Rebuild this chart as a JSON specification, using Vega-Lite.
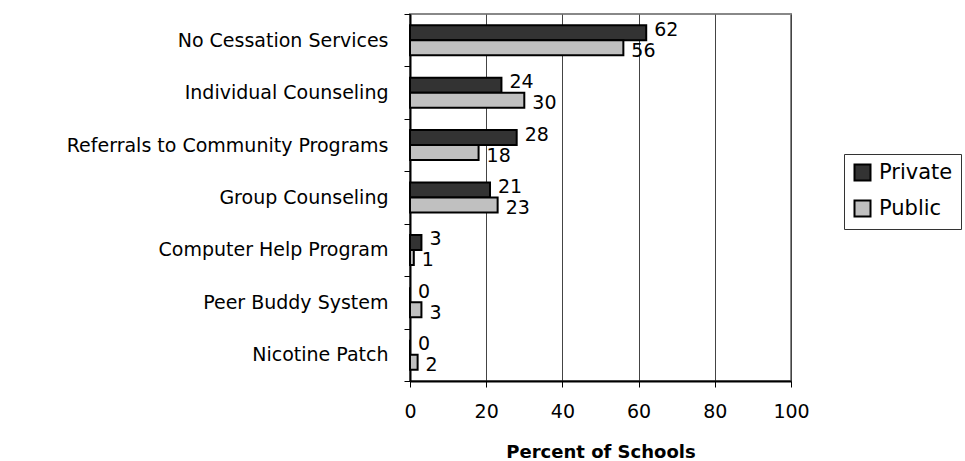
{
  "$schema": "https://vega.github.io/schema/vega-lite/v6.json",
  "autosize": {"type": "none"},
  "padding": {"left": 410, "top": 14, "right": 174, "bottom": 80},
  "width": 381,
  "height": 367,
  "background": "white",
  "config": {
    "font": "DejaVu Sans",
    "view": {"stroke": "#888888", "strokeWidth": 2},
    "axis": {"labelFont": "DejaVu Sans", "labelColor": "#000", "titleColor": "#000"}
  },
  "data": {
    "values": [
      {"service": "No Cessation Services", "type": "Private", "pct": 62},
      {"service": "No Cessation Services", "type": "Public", "pct": 56},
      {"service": "Individual Counseling", "type": "Private", "pct": 24},
      {"service": "Individual Counseling", "type": "Public", "pct": 30},
      {"service": "Referrals to Community Programs", "type": "Private", "pct": 28},
      {"service": "Referrals to Community Programs", "type": "Public", "pct": 18},
      {"service": "Group Counseling\u00a0", "type": "Private", "pct": 21},
      {"service": "Group Counseling\u00a0", "type": "Public", "pct": 23},
      {"service": "Computer Help Program", "type": "Private", "pct": 3},
      {"service": "Computer Help Program", "type": "Public", "pct": 1},
      {"service": "Peer Buddy System", "type": "Private", "pct": 0},
      {"service": "Peer Buddy System", "type": "Public", "pct": 3},
      {"service": "Nicotine Patch", "type": "Private", "pct": 0},
      {"service": "Nicotine Patch", "type": "Public", "pct": 2}
    ]
  },
  "encoding": {
    "y": {
      "field": "service",
      "type": "nominal",
      "sort": null,
      "scale": {"paddingInner": 0, "paddingOuter": 0},
      "axis": {
        "title": null,
        "labelFontSize": 19,
        "labelPadding": 16,
        "tickSize": 6,
        "tickBand": "extent",
        "tickColor": "#000",
        "tickWidth": 1,
        "domainColor": "#000",
        "domainWidth": 2,
        "labelLimit": 500
      }
    },
    "yOffset": {
      "field": "type",
      "type": "nominal",
      "scale": {"domain": ["Private", "Public"], "paddingInner": 0, "paddingOuter": 0.747}
    },
    "x": {
      "field": "pct",
      "type": "quantitative",
      "scale": {"domain": [0, 100], "nice": false},
      "axis": {
        "values": [0, 20, 40, 60, 80, 100],
        "labelFlush": false,
        "title": "Percent of Schools",
        "titleFontSize": 18,
        "titleFontWeight": "bold",
        "titleFont": "DejaVu Sans",
        "titlePadding": 22,
        "labelFontSize": 19,
        "labelPadding": 15,
        "tickSize": 6,
        "tickColor": "#000",
        "domainColor": "#000",
        "domainWidth": 2,
        "grid": true,
        "gridColor": "#444444",
        "gridWidth": 1,
        "gridOpacity": 1
      }
    }
  },
  "layer": [
    {
      "mark": {"type": "bar", "stroke": "#000", "strokeWidth": 2},
      "encoding": {
        "color": {
          "field": "type",
          "type": "nominal",
          "scale": {"domain": ["Private", "Public"], "range": ["#333333", "#c0c0c0"]},
          "legend": {
            "title": null,
            "orient": "none",
            "legendX": 434,
            "legendY": 140,
            "padding": 8,
            "strokeColor": "#333",
            "fillColor": "white",
            "symbolType": "square",
            "symbolSize": 256,
            "symbolStrokeColor": "#000",
            "symbolStrokeWidth": 2,
            "symbolOpacity": 1,
            "labelFont": "DejaVu Sans",
            "labelFontSize": 21,
            "labelColor": "#000",
            "labelOffset": 6,
            "rowPadding": 11
          }
        }
      }
    },
    {
      "transform": [{"filter": "datum.type === 'Private'"}],
      "mark": {"type": "text", "align": "left", "baseline": "middle", "dx": 8, "dy": -3, "fontSize": 19, "font": "DejaVu Sans", "color": "#000"},
      "encoding": {"text": {"field": "pct", "type": "quantitative"}}
    },
    {
      "transform": [{"filter": "datum.type === 'Public'"}],
      "mark": {"type": "text", "align": "left", "baseline": "middle", "dx": 8, "dy": 3, "fontSize": 19, "font": "DejaVu Sans", "color": "#000"},
      "encoding": {"text": {"field": "pct", "type": "quantitative"}}
    }
  ]
}
